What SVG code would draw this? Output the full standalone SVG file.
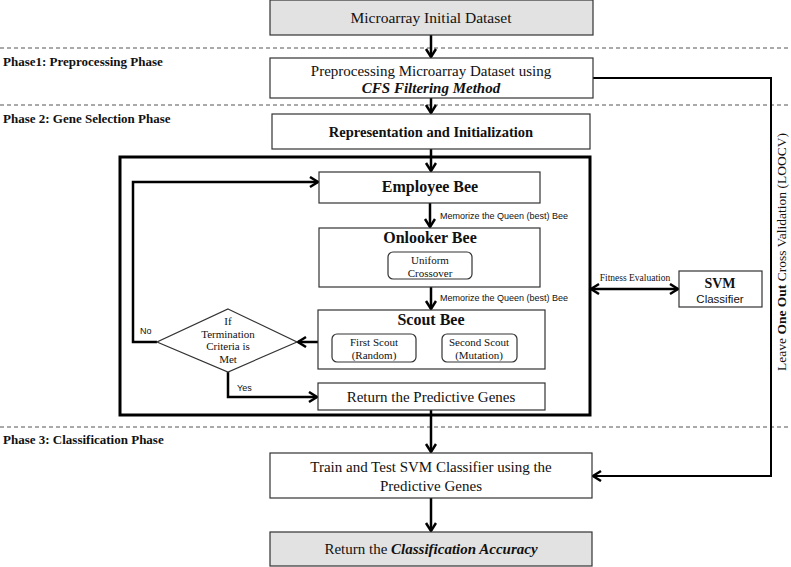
<svg xmlns="http://www.w3.org/2000/svg" width="791" height="567" viewBox="0 0 791 567">
<style>
.box{fill:#fff;stroke:#333;stroke-width:1.2}
.gray{fill:#e2e2e2;stroke:#333;stroke-width:1.2}
.rbox{fill:#fff;stroke:#333;stroke-width:1.2}
.serif{font-family:"Liberation Serif","Times New Roman",serif;fill:#111}
.sans{font-family:"Liberation Sans",Arial,sans-serif;fill:#111}
.b{font-weight:bold}
.bi{font-weight:bold;font-style:italic}
.dash{stroke:#555;stroke-width:1;stroke-dasharray:4 3}
.con{fill:none;stroke:#000;stroke-width:2.5}
.thin{fill:none;stroke:#000;stroke-width:2}
</style>
<defs>
<marker id="ah" markerUnits="userSpaceOnUse" markerWidth="14" markerHeight="14" refX="10" refY="6" orient="auto-start-reverse">
<path d="M2,1 L10,6 L2,11" fill="none" stroke="#000" stroke-width="2.5"/>
</marker>
</defs>

<g id="phases">
<line class="dash" x1="0" y1="48" x2="791" y2="48"/>
<line class="dash" x1="0" y1="105" x2="791" y2="105"/>
<line class="dash" x1="0" y1="427" x2="791" y2="427"/>
<text class="serif b" x="3" y="66" font-size="13">Phase1: Preprocessing Phase</text>
<text class="serif b" x="3" y="123" font-size="13">Phase 2: Gene Selection Phase</text>
<text class="serif b" x="3" y="444" font-size="13">Phase 3: Classification Phase</text>
</g>

<g id="gene-selection-frame">
<rect x="120" y="157" width="470" height="258" fill="none" stroke="#000" stroke-width="3"/>
</g>

<g id="connectors">
<line class="con" x1="431" y1="35" x2="431" y2="57" marker-end="url(#ah)"/>
<line class="con" x1="431" y1="98" x2="431" y2="113" marker-end="url(#ah)"/>
<line class="con" x1="431" y1="149" x2="431" y2="171" marker-end="url(#ah)"/>
<line class="con" x1="430" y1="203" x2="430" y2="227" marker-end="url(#ah)"/>
<line class="con" x1="431" y1="287" x2="431" y2="309" marker-end="url(#ah)"/>
<line class="con" x1="318" y1="342" x2="298" y2="342" marker-end="url(#ah)"/>
<polyline class="con" points="157,342 133,342 133,182 318,182" marker-end="url(#ah)"/>
<polyline class="con" points="228,372 228,397 317,397" marker-end="url(#ah)"/>
<line class="con" x1="431" y1="410" x2="431" y2="452" marker-end="url(#ah)"/>
<line class="con" x1="431" y1="498" x2="431" y2="531" marker-end="url(#ah)"/>
<line class="con" x1="591" y1="289" x2="678" y2="289" marker-start="url(#ah)" marker-end="url(#ah)"/>
<polyline class="thin" points="593,78 771,78 771,476 593,476" marker-end="url(#ah)"/>
<text class="sans" x="440" y="219" font-size="9">Memorize the Queen (best) Bee</text>
<text class="sans" x="440" y="301" font-size="9">Memorize the Queen (best) Bee</text>
<text class="sans" x="140" y="334" font-size="9">No</text>
<text class="sans" x="237" y="391" font-size="9">Yes</text>
<text class="serif" x="635" y="281" font-size="9.5" text-anchor="middle">Fitness Evaluation</text>
<text class="serif" transform="translate(786,252) rotate(-90)" font-size="13.5" text-anchor="middle">Leave <tspan class="b">One Out</tspan> Cross Validation (LOOCV)</text>
</g>

<g id="initial-dataset">
<rect class="gray" x="270" y="0" width="323" height="35"/>
<text class="serif" x="431" y="23" font-size="15.5" text-anchor="middle">Microarray Initial Dataset</text>
</g>

<g id="preprocessing">
<rect class="box" x="270" y="58" width="323" height="40"/>
<text class="serif" x="431" y="76" font-size="15" text-anchor="middle">Preprocessing Microarray Dataset using</text>
<text class="serif bi" x="431" y="93" font-size="15" text-anchor="middle">CFS Filtering Method</text>
</g>

<g id="representation">
<rect class="box" x="272" y="114" width="318" height="35"/>
<text class="serif b" x="431" y="137" font-size="14.5" text-anchor="middle">Representation and Initialization</text>
</g>

<g id="employee-bee">
<rect class="box" x="319" y="172" width="221" height="31"/>
<text class="serif b" x="430" y="192" font-size="16" text-anchor="middle">Employee Bee</text>
</g>

<g id="onlooker-bee">
<rect class="box" x="319" y="228" width="221" height="59"/>
<text class="serif b" x="430" y="243" font-size="16" text-anchor="middle">Onlooker Bee</text>
<rect class="rbox" x="388" y="252" width="84" height="27" rx="5"/>
<text class="serif" x="430" y="264" font-size="11" text-anchor="middle">Uniform</text>
<text class="serif" x="430" y="277" font-size="11" text-anchor="middle">Crossover</text>
</g>

<g id="scout-bee">
<rect class="box" x="318" y="310" width="227" height="59"/>
<text class="serif b" x="431" y="325" font-size="16" text-anchor="middle">Scout Bee</text>
<rect class="rbox" x="332" y="334" width="84" height="28" rx="5"/>
<text class="serif" x="374" y="346" font-size="11" text-anchor="middle">First Scout</text>
<text class="serif" x="374" y="359" font-size="11" text-anchor="middle">(Random)</text>
<rect class="rbox" x="442" y="334" width="75" height="28" rx="5"/>
<text class="serif" x="479" y="346" font-size="11" text-anchor="middle">Second Scout</text>
<text class="serif" x="479" y="359" font-size="11" text-anchor="middle">(Mutation)</text>
</g>

<g id="termination">
<polygon points="228,309 297,342 228,372 157,342" fill="#fff" stroke="#333" stroke-width="1.2"/>
<text class="serif" x="228" y="325" font-size="11" text-anchor="middle">If</text>
<text class="serif" x="228" y="338" font-size="11" text-anchor="middle">Termination</text>
<text class="serif" x="228" y="350" font-size="11" text-anchor="middle">Criteria is</text>
<text class="serif" x="228" y="363" font-size="11" text-anchor="middle">Met</text>
</g>

<g id="return-genes">
<rect class="box" x="318" y="383" width="227" height="27"/>
<text class="serif" x="431" y="402" font-size="15" text-anchor="middle">Return the Predictive Genes</text>
</g>

<g id="svm">
<rect class="box" x="679" y="271" width="83" height="36"/>
<text class="serif b" x="720" y="288" font-size="14" text-anchor="middle">SVM</text>
<text class="sans" x="720" y="303" font-size="11.5" text-anchor="middle">Classifier</text>
</g>

<g id="train-test">
<rect class="box" x="270" y="453" width="322" height="45"/>
<text class="serif" x="431" y="472" font-size="15" text-anchor="middle">Train and Test SVM Classifier using the</text>
<text class="serif" x="431" y="491" font-size="15" text-anchor="middle">Predictive Genes</text>
</g>

<g id="accuracy">
<rect class="gray" x="270" y="532" width="322" height="34"/>
<text class="serif" x="431" y="554" font-size="15" text-anchor="middle">Return the <tspan class="bi">Classification Accuracy</tspan></text>
</g>
</svg>
